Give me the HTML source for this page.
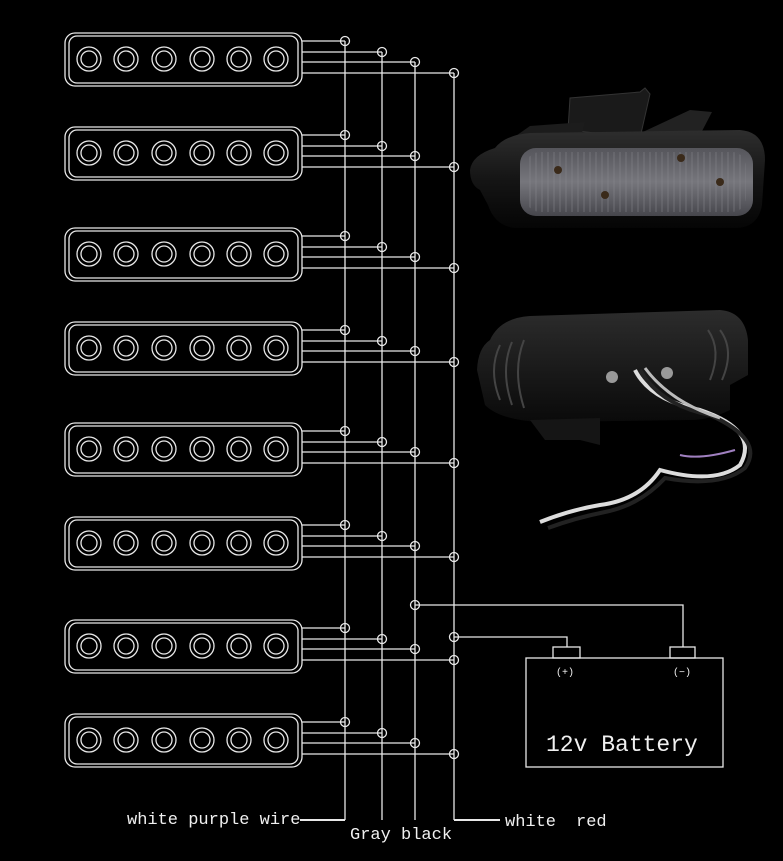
<!DOCTYPE html>
<html><head><meta charset="utf-8">
<style>
html,body{margin:0;padding:0;background:#000;width:783px;height:861px;overflow:hidden}
svg{display:block}
</style></head>
<body>
<svg id="s" width="783" height="861" xmlns="http://www.w3.org/2000/svg">
<defs>
<linearGradient id="body" x1="0" y1="0" x2="0" y2="1">
<stop offset="0" stop-color="#2e2e2e"/><stop offset="0.5" stop-color="#151515"/><stop offset="1" stop-color="#050505"/>
</linearGradient>
<linearGradient id="lens" x1="0" y1="0" x2="0" y2="1">
<stop offset="0" stop-color="#55555b"/><stop offset="0.5" stop-color="#76767c"/><stop offset="1" stop-color="#46464c"/>
</linearGradient>
<pattern id="ribs" width="6" height="10" patternUnits="userSpaceOnUse">
<rect width="6" height="10" fill="none"/><line x1="2" y1="0" x2="2" y2="10" stroke="#8a8a90" stroke-width="1" opacity="0.5"/>
</pattern>
<linearGradient id="back" x1="0" y1="0" x2="0" y2="1">
<stop offset="0" stop-color="#2c2c2c"/><stop offset="1" stop-color="#0a0a0a"/>
</linearGradient>
</defs>
<rect width="783" height="861" fill="#000"/>
<g id="diag" fill="none" stroke="#e8e8e8" stroke-width="1.3"></g>
<g font-family="'Liberation Mono', monospace" fill="#f0f0f0">
<text x="127" y="824" font-size="17">white purple wire</text>
<text x="350" y="839" font-size="17">Gray black</text>
<text x="505" y="826" font-size="17">white</text>
<text x="576" y="826" font-size="17">red</text>
<text x="546" y="751" font-size="23">12v Battery</text>
<text x="556" y="675" font-size="10">(+)</text>
<text x="673" y="675" font-size="10">(−)</text>
</g>
<g>
<path d="M568 130 L570 98 L640 92 L645 88 L650 94 L640 138 Z" fill="#1a1a1a" stroke="#333"/>
<path d="M630 138 L690 110 L712 112 L700 135 Z" fill="#222"/>
<path d="M510 140 L530 126 L585 122 L580 140 Z" fill="#1c1c1c"/>
<path d="M495 148 Q505 135 530 133 L740 130 Q765 132 765 160 L762 205 Q758 228 735 228 L515 228 Q495 226 488 205 L480 190 Q470 185 470 170 Q472 155 495 148 Z" fill="url(#body)"/>
<rect x="520" y="148" width="233" height="68" rx="16" fill="url(#lens)"/>
<rect x="526" y="152" width="220" height="60" rx="14" fill="url(#ribs)"/>
<circle cx="558" cy="170" r="4" fill="#3a2a1a"/>
<circle cx="605" cy="195" r="4" fill="#3a2a1a"/>
<circle cx="681" cy="158" r="4" fill="#3a2a1a"/>
<circle cx="720" cy="182" r="4" fill="#3a2a1a"/>
</g>
<g>
<path d="M490 340 Q500 318 530 316 L720 310 Q745 312 748 340 L748 375 L730 385 L730 410 Q710 420 690 420 L540 422 Q500 420 485 405 L477 370 Q478 348 490 340 Z" fill="url(#back)"/>
<path d="M500 345 Q488 370 500 400 M512 342 Q500 370 512 405 M524 340 Q512 370 524 408" stroke="#444" stroke-width="2" fill="none"/>
<path d="M720 330 Q735 350 722 380 M708 330 Q722 350 710 380" stroke="#444" stroke-width="2" fill="none"/>
<path d="M530 420 L600 418 L600 445 L580 440 L545 440 Z" fill="#151515"/>
<circle cx="612" cy="377" r="6" fill="#999"/>
<circle cx="667" cy="373" r="6" fill="#999"/>
<path d="M635 370 Q650 400 700 410 Q760 430 740 465 Q715 485 660 470 Q640 500 600 505 Q570 510 540 522" stroke="#ddd" stroke-width="4" fill="none"/>
<path d="M640 370 Q660 405 710 415 Q765 440 745 468 Q720 488 665 478 Q640 505 605 512 Q575 518 548 528" stroke="#222" stroke-width="4" fill="none"/>
<path d="M645 368 Q670 402 720 418" stroke="#bbb" stroke-width="3" fill="none"/>
<path d="M735 450 Q700 460 680 455" stroke="#a080c0" stroke-width="2" fill="none"/>
</g>
</svg>
<script>
var g=document.getElementById('diag'),h='';
var tops=[33,127,228,322,423,517,620,714];
var cx=[89,126,164,202,239,276];
var vx=[345,382,415,454];
tops.forEach(function(t){
 h+='<rect x="65" y="'+t+'" width="237" height="53" rx="10"/>';
 h+='<rect x="69" y="'+(t+3)+'" width="229" height="47" rx="8"/>';
 cx.forEach(function(c){h+='<circle cx="'+c+'" cy="'+(t+26)+'" r="12"/><circle cx="'+c+'" cy="'+(t+26)+'" r="8"/>';});
 var ys=[t+8,t+19,t+29,t+40];
 ys.forEach(function(y,i){h+='<line x1="302" y1="'+y+'" x2="'+vx[i]+'" y2="'+y+'"/><circle cx="'+vx[i]+'" cy="'+y+'" r="4.5"/>';});
});
vx.forEach(function(x,i){var top=[41,52,62,73][i];h+='<line x1="'+x+'" y1="'+top+'" x2="'+x+'" y2="820"/>';});
h+='<line x1="300" y1="820" x2="345" y2="820" stroke-width="2"/>';
h+='<line x1="454" y1="820" x2="500" y2="820" stroke-width="2"/>';
h+='<rect x="526" y="658" width="197" height="109"/>';
h+='<rect x="553" y="647" width="27" height="11"/><rect x="670" y="647" width="25" height="11"/>';
h+='<polyline points="454,637 567,637 567,647"/><circle cx="454" cy="637" r="4.5"/>';
h+='<polyline points="415,605 683,605 683,647"/><circle cx="415" cy="605" r="4.5"/>';
g.innerHTML=h;
</script>
</body></html>
